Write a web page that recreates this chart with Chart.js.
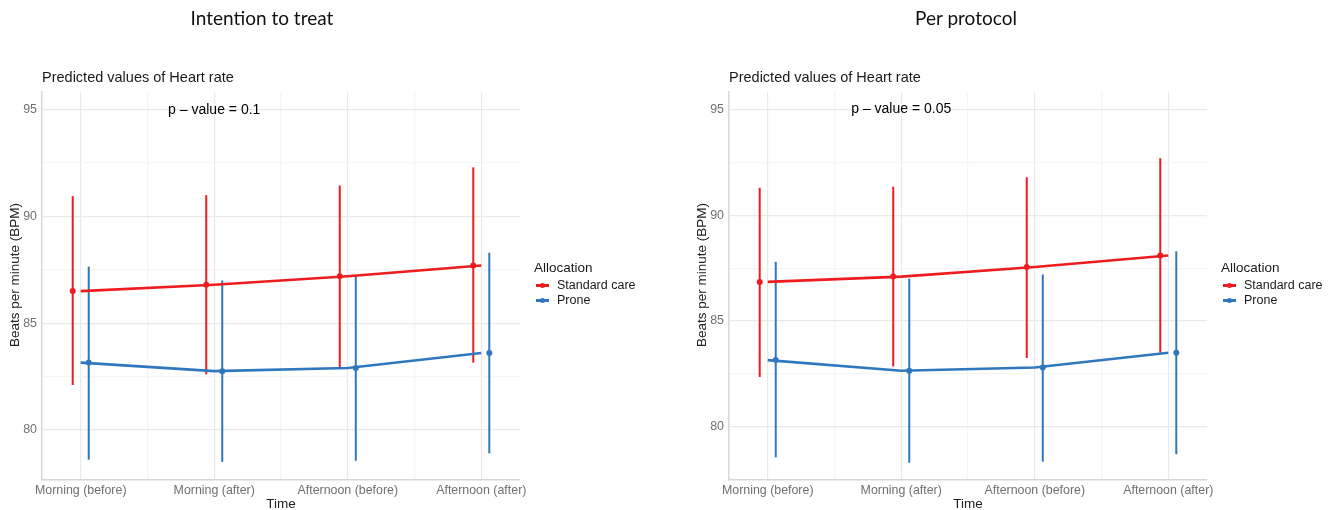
<!DOCTYPE html>
<html>
<head>
<meta charset="utf-8">
<script src="https://cdn.jsdelivr.net/npm/chart.js@4.4.1/dist/chart.umd.min.js"></script>
<style>
  html, body { margin: 0; padding: 0; background: #ffffff; }
  #wrap { position: relative; width: 1330px; height: 510px; overflow: hidden; font-family: "Liberation Sans", Arial, sans-serif; }
  canvas { position: absolute; top: 0; }
  .main { position: absolute; top: 6px; width: 300px; text-align: center; font-family: Lato, "Open Sans", sans-serif; font-size: 19px; color: #111; }
  .sub { position: absolute; top: 69px; font-size: 14.5px; color: #1a1a1a; white-space: nowrap; }
  .leg { position: absolute; top: 260px; color: #1a1a1a; }
  .leg .ttl { font-size: 13.5px; height: 18px; line-height: 16px; }
  .leg .item { position: relative; height: 15px; font-size: 12.5px; line-height: 15px; padding-left: 23px; white-space: nowrap; }
  .leg .sym { position: absolute; left: 2px; top: 6px; width: 13px; height: 2.5px; }
  .leg .dot { position: absolute; left: 6px; top: 5px; width: 5px; height: 5px; border-radius: 50%; }
</style>
</head>
<body>
<div id="wrap">
  <canvas id="c1" width="687" height="510" style="left:0px"></canvas>
  <canvas id="c2" width="643" height="510" style="left:687px"></canvas>
  <div class="main" id="t1" style="left:112px"></div>
  <div class="main" id="t2" style="left:816px"></div>
  <div class="sub" id="s1" style="left:42px"></div>
  <div class="sub" id="s2" style="left:729px"></div>
  <div class="leg" id="l1" style="left:534px"></div>
  <div class="leg" id="l2" style="left:1221px"></div>
</div>
<script>
// ---------------- data ----------------
const categories = ["Morning (before)", "Morning (after)", "Afternoon (before)", "Afternoon (after)"];
const yTickValues = [80, 85, 90, 95];
const seriesNames = ["Standard care", "Prone"];
const panelTitles = ["Intention to treat", "Per protocol"];
const subTitle = "Predicted values of Heart rate";
const legendTitle = "Allocation";
const xAxisTitle = "Time";
const yAxisTitle = "Beats per minute (BPM)";
const pValues = ["0.1", "0.05"];

// Intention to treat
const ittStdMean   = [86.5, 86.8, 87.2, 87.7];
const ittStdLow    = [82.1, 82.6, 82.9, 83.15];
const ittStdHigh   = [90.95, 91.0, 91.45, 92.3];
const ittProneMean = [83.15, 82.75, 82.9, 83.6];
const ittProneLow  = [78.6, 78.5, 78.55, 78.9];
const ittProneHigh = [87.65, 87.0, 87.25, 88.3];

// Per protocol
const ppStdMean    = [86.85, 87.1, 87.55, 88.1];
const ppStdLow     = [82.35, 82.85, 83.25, 83.5];
const ppStdHigh    = [91.3, 91.35, 91.8, 92.7];
const ppProneMean  = [83.15, 82.65, 82.8, 83.5];
const ppProneLow   = [78.55, 78.3, 78.35, 78.7];
const ppProneHigh  = [87.8, 87.0, 87.2, 88.3];

// ---------------- style ----------------
const RED = "#ee1c1f";
const BLUE = "#2f78bd";
const DODGE = 0.06;
const FONT = "'Liberation Sans', Arial, sans-serif";

function buildChart(canvasId, std, prone, yMin, yMax, pLabel) {
  const canvas = document.getElementById(canvasId);
  const W = canvas.width;
  const colors = [RED, BLUE];
  const groups = [std, prone];

  const datasets = [];
  groups.forEach((g, k) => {
    datasets.push({
      type: 'line', label: seriesNames[k],
      data: g.mean.map((v, i) => ({ x: i, y: v })),
      borderColor: colors[k], borderWidth: 2.6, pointRadius: 0, tension: 0, fill: false
    });
  });
  groups.forEach((g, k) => {
    const d = k === 0 ? -DODGE : DODGE;
    datasets.push({
      type: 'scatter', label: seriesNames[k] + ' pts',
      data: g.mean.map((v, i) => ({ x: i + d, y: v })),
      backgroundColor: colors[k], borderColor: colors[k], pointRadius: 3, borderWidth: 0
    });
  });

  const extras = {
    id: 'extras',
    beforeDatasetsDraw(chart) {
      const { ctx, scales: { x, y } } = chart;
      groups.forEach((g, k) => {
        const d = k === 0 ? -DODGE : DODGE;
        ctx.save();
        ctx.strokeStyle = colors[k];
        ctx.lineWidth = 2;
        g.low.forEach((lo, i) => {
          const px = x.getPixelForValue(i + d);
          ctx.beginPath();
          ctx.moveTo(px, y.getPixelForValue(lo));
          ctx.lineTo(px, y.getPixelForValue(g.high[i]));
          ctx.stroke();
        });
        ctx.restore();
      });
    },
    afterDatasetsDraw(chart) {
      const { ctx, chartArea, scales: { x, y } } = chart;
      ctx.save();
      ctx.fillStyle = '#000';
      ctx.font = "14px " + FONT;
      ctx.textAlign = 'center';
      ctx.textBaseline = 'middle';
      ctx.fillText("p \u2013 value = " + pLabel, x.getPixelForValue(1), y.getPixelForValue(95));
      // y-axis title
      ctx.fillStyle = '#222';
      ctx.font = "13.5px " + FONT;
      ctx.translate(15, (chartArea.top + chartArea.bottom) / 2 - 11);
      ctx.rotate(-Math.PI / 2);
      ctx.fillText(yAxisTitle, 0, 0);
      ctx.restore();
    }
  };

  const minorY = [];
  for (let i = 0; i < yTickValues.length; i++) {
    minorY.push(yTickValues[i]);
    if (i < yTickValues.length - 1) minorY.push((yTickValues[i] + yTickValues[i + 1]) / 2);
  }
  const minorX = [];
  for (let i = 0; i < categories.length; i++) {
    minorX.push(i);
    if (i < categories.length - 1) minorX.push(i + 0.5);
  }

  return new Chart(canvas, {
    data: { datasets },
    options: {
      responsive: false,
      animation: false,
      devicePixelRatio: 1,
      layout: { padding: { top: 92, right: W - 520, left: 0, bottom: 0 } },
      plugins: { legend: { display: false }, tooltip: { enabled: false } },
      scales: {
        x: {
          type: 'linear', min: -0.29, max: 3.29,
          afterBuildTicks: s => { s.ticks = minorX.map(v => ({ value: v })); },
          afterFit: s => { s.height = 30; },
          ticks: {
            autoSkip: false, maxRotation: 0, padding: 3,
            color: '#707070', font: { family: FONT, size: 12.4 },
            callback: v => Number.isInteger(v) ? categories[v] : ''
          },
          grid: {
            drawTicks: false,
            color: c => (c.tick && !Number.isInteger(c.tick.value)) ? '#f5f5f5' : '#e9e9e9',
            lineWidth: 1.2
          },
          border: { display: true, color: '#d8d8d8', width: 1.5 },
          title: { display: true, text: xAxisTitle, color: '#222', font: { family: FONT, size: 13.5 }, padding: { top: 0, bottom: -2 } }
        },
        y: {
          type: 'linear', min: yMin, max: yMax,
          afterBuildTicks: s => { s.ticks = minorY.map(v => ({ value: v })); },
          afterFit: s => { s.width = 42; },
          ticks: {
            autoSkip: false, padding: 5,
            color: '#707070', font: { family: FONT, size: 12.4 },
            callback: v => yTickValues.includes(v) ? String(v) : ''
          },
          grid: {
            drawTicks: false,
            color: c => (c.tick && !yTickValues.includes(c.tick.value)) ? '#f5f5f5' : '#e9e9e9',
            lineWidth: 1.2
          },
          border: { display: true, color: '#d8d8d8', width: 1.5 },
          title: { display: false }
        }
      }
    },
    plugins: [extras]
  });
}

buildChart('c1',
  { mean: ittStdMean, low: ittStdLow, high: ittStdHigh },
  { mean: ittProneMean, low: ittProneLow, high: ittProneHigh },
  77.65, 95.83, pValues[0]);
buildChart('c2',
  { mean: ppStdMean, low: ppStdLow, high: ppStdHigh },
  { mean: ppProneMean, low: ppProneLow, high: ppProneHigh },
  77.48, 95.83, pValues[1]);

// text & legends
document.getElementById('t1').textContent = panelTitles[0];
document.getElementById('t2').textContent = panelTitles[1];
document.getElementById('s1').textContent = subTitle;
document.getElementById('s2').textContent = subTitle;
['l1', 'l2'].forEach(id => {
  const el = document.getElementById(id);
  const t = document.createElement('div');
  t.className = 'ttl'; t.textContent = legendTitle; el.appendChild(t);
  [RED, BLUE].forEach((col, k) => {
    const it = document.createElement('div'); it.className = 'item';
    const sym = document.createElement('span'); sym.className = 'sym'; sym.style.background = col;
    const dot = document.createElement('span'); dot.className = 'dot'; dot.style.background = col;
    it.appendChild(sym); it.appendChild(dot);
    it.appendChild(document.createTextNode(seriesNames[k]));
    el.appendChild(it);
  });
});
</script>
</body>
</html>
